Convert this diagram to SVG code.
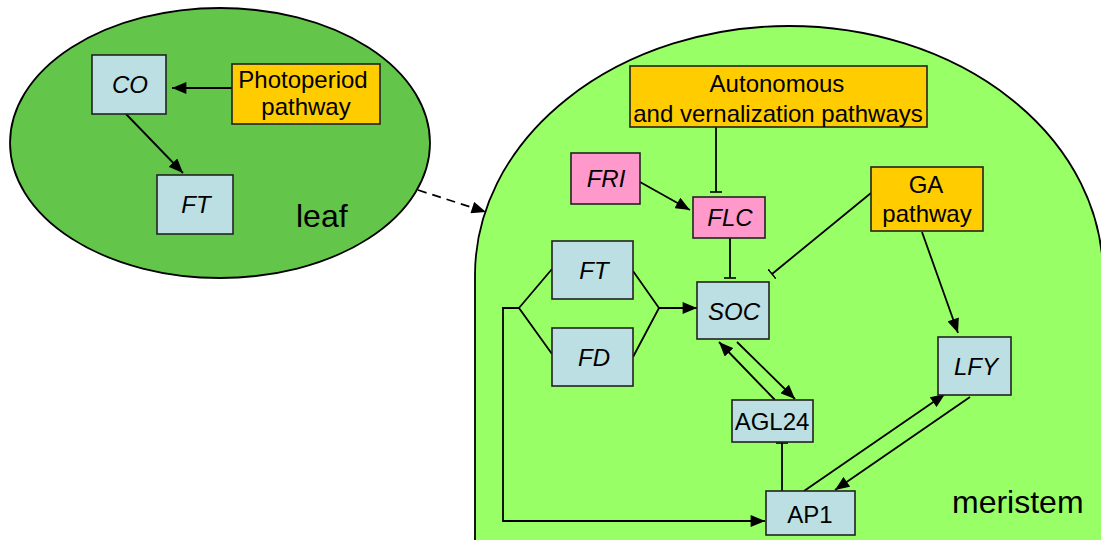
<svg xmlns="http://www.w3.org/2000/svg" width="1101" height="540" viewBox="0 0 1101 540">
<defs>
<marker id="ah" viewBox="0 0 12 10" refX="12" refY="5" markerWidth="15" markerHeight="12" markerUnits="userSpaceOnUse" orient="auto"><path d="M0,0 L12,5 L0,10 z" fill="#000"/></marker>
<marker id="tb" viewBox="0 0 2 12" refX="1" refY="6" markerWidth="2" markerHeight="12" markerUnits="userSpaceOnUse" orient="auto"><path d="M1,0 L1,12" stroke="#000" stroke-width="1.6"/></marker>
</defs>
<style>
.box{stroke:#222;stroke-width:1.6}
.blue{fill:#bbdfe2}
.orange{fill:#ffcc00}
.pink{fill:#ff99cc}
text{font-family:"Liberation Sans",Arial,sans-serif;font-size:24px;fill:#000;text-anchor:middle}
.it{font-style:italic}
.big{font-size:32px;text-anchor:start}
.c{fill:none;stroke:#000;stroke-width:1.8}
.a{marker-end:url(#ah)}
.t{marker-end:url(#tb)}
</style>
<rect width="1101" height="540" fill="#fff"/>
<g id="leaf">
<ellipse cx="220" cy="143" rx="210" ry="135" fill="#63c64b" stroke="#000" stroke-width="1.8"/>
<text class="big" x="296" y="227">leaf</text>
</g>
<g id="meristem">
<path d="M475,545 L475,275 A314,249 0 0 1 1103,275 L1103,545" fill="#99ff66" stroke="#000" stroke-width="1.8"/>
<text class="big" x="952" y="513">meristem</text>
</g>
<g id="connectors">
<line class="c a" x1="232" y1="88" x2="172" y2="88"/>
<line class="c a" x1="126" y1="114" x2="183" y2="173"/>
<line class="c a" x1="418" y1="190" x2="486" y2="212" stroke-dasharray="9,6"/>
<line class="c t" x1="716" y1="127" x2="716" y2="192"/>
<line class="c a" x1="640" y1="182" x2="690" y2="210"/>
<line class="c t" x1="730" y1="238" x2="730" y2="278"/>
<line class="c t" x1="871" y1="193" x2="772" y2="274"/>
<line class="c a" x1="922" y1="232" x2="958" y2="333"/>
<polyline class="c" points="552,269 519,308 552,354"/>
<polyline class="c" points="633,271 659,308 633,357"/>
<line class="c a" x1="659" y1="308" x2="697" y2="308"/>
<polyline class="c a" points="519,308 503,308 503,521 765,521"/>
<line class="c a" x1="775" y1="400" x2="719" y2="342"/>
<line class="c a" x1="737" y1="342" x2="795" y2="399"/>
<line class="c t" x1="782" y1="491" x2="782" y2="443"/>
<line class="c a" x1="804" y1="491" x2="945" y2="394"/>
<line class="c a" x1="970" y1="397" x2="835" y2="490"/>
</g>
<g id="CO"><rect class="box blue" x="92" y="55" width="74" height="59"/><text class="it" x="130" y="93">CO</text></g>
<g id="photoperiod"><rect class="box orange" x="232" y="64" width="148" height="60"/><text x="303" y="88">Photoperiod</text><text x="306" y="115">pathway</text></g>
<g id="FT_leaf"><rect class="box blue" x="157" y="175" width="76" height="59"/><text class="it" x="196" y="213">FT</text></g>
<g id="autonomous"><rect class="box orange" x="630" y="66" width="297" height="61"/><text x="777" y="92">Autonomous</text><text x="778" y="122">and vernalization pathways</text></g>
<g id="FRI"><rect class="box pink" x="571" y="153" width="69" height="51"/><text class="it" x="606" y="187">FRI</text></g>
<g id="FLC"><rect class="box pink" x="693" y="197" width="72" height="41"/><text class="it" x="730" y="226">FLC</text></g>
<g id="GA"><rect class="box orange" x="871" y="167" width="112" height="64"/><text x="926" y="193">GA</text><text x="927" y="222">pathway</text></g>
<g id="SOC"><rect class="box blue" x="697" y="282" width="72" height="57"/><text class="it" x="734" y="320">SOC</text></g>
<g id="FT"><rect class="box blue" x="552" y="241" width="81" height="58"/><text class="it" x="594" y="279">FT</text></g>
<g id="FD"><rect class="box blue" x="552" y="328" width="81" height="58"/><text class="it" x="594" y="366">FD</text></g>
<g id="LFY"><rect class="box blue" x="938" y="337" width="73" height="58"/><text class="it" x="976" y="375">LFY</text></g>
<g id="AGL24"><rect class="box blue" x="732" y="400" width="81" height="42"/><text x="772" y="430">AGL24</text></g>
<g id="AP1"><rect class="box blue" x="766" y="491" width="89" height="44"/><text x="810" y="523">AP1</text></g>
</svg>
